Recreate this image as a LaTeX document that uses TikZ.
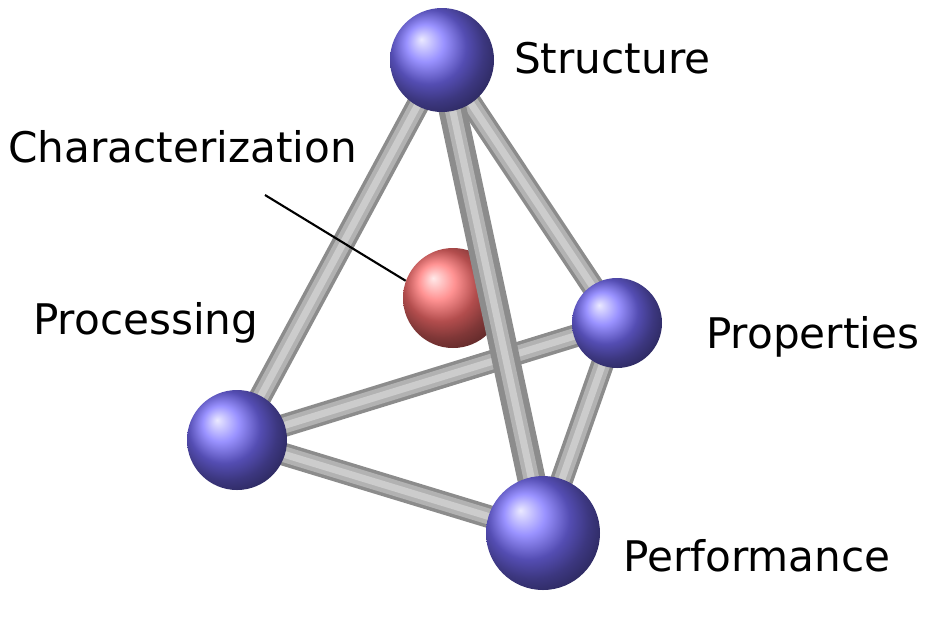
\documentclass[tikz,border=0pt]{standalone}
\usepackage{fontspec}
\setmainfont{DejaVu Sans}
\usetikzlibrary{shadings}
\definecolor{ballblue}{RGB}{120,110,255}
\definecolor{ballred}{RGB}{255,110,110}

\begin{document}
\begin{tikzpicture}[x=0.02cm,y=-0.02cm,
                    rod/.style={line width=13pt,draw=gray!90,
                      postaction={draw=gray!60,line width=9pt},
                      postaction={draw=gray!40,line width=4pt}},
                    ball/.style={circle,shading=ball,ball color=ballblue,inner sep=0pt},
                    label/.style={anchor=west,font=\fontsize{24}{28}\selectfont}]
  \useasboundingbox (0,0) rectangle (926,620);

  \coordinate (str) at (442,60);
  \coordinate (pro) at (617,323);
  \coordinate (prc) at (237,440);
  \coordinate (per) at (543,533);
  \coordinate (cha) at (453,298);

  % hidden sphere in the middle
  \node[ball,ball color=ballred,minimum size=100*0.02cm] (char) at (cha) {};

  % rods
  \draw[rod] (prc) -- (pro);
  \draw[rod] (pro) -- (per);
  \draw[rod] (str) -- (prc);
  \draw[rod] (str) -- (pro);
  \draw[rod] (prc) -- (per);
  \draw[rod,line width=16pt] (str) -- (per);

  % corner spheres
  \node[ball,minimum size=104*0.02cm] (S)  at (str) {};
  \node[ball,minimum size=90*0.02cm]  (Pp) at (pro) {};
  \node[ball,minimum size=100*0.02cm] (Pc) at (prc) {};
  \node[ball,minimum size=114*0.02cm] (Pf) at (per) {};

  \node[label] (ls)  at (508,58)  {Structure};
  \node[label] (lc)  at (2,147)   {Characterization};
  \node[label] (lpc) at (27,323)  {Processing};
  \node[label] (lpp) at (700,337) {Properties};
  \node[label] (lpf) at (617,556) {Performance};

  \coordinate (tick) at (265,195);
  \draw[line width=1.2pt] (tick) -- (char.160);
\end{tikzpicture}
\end{document}
